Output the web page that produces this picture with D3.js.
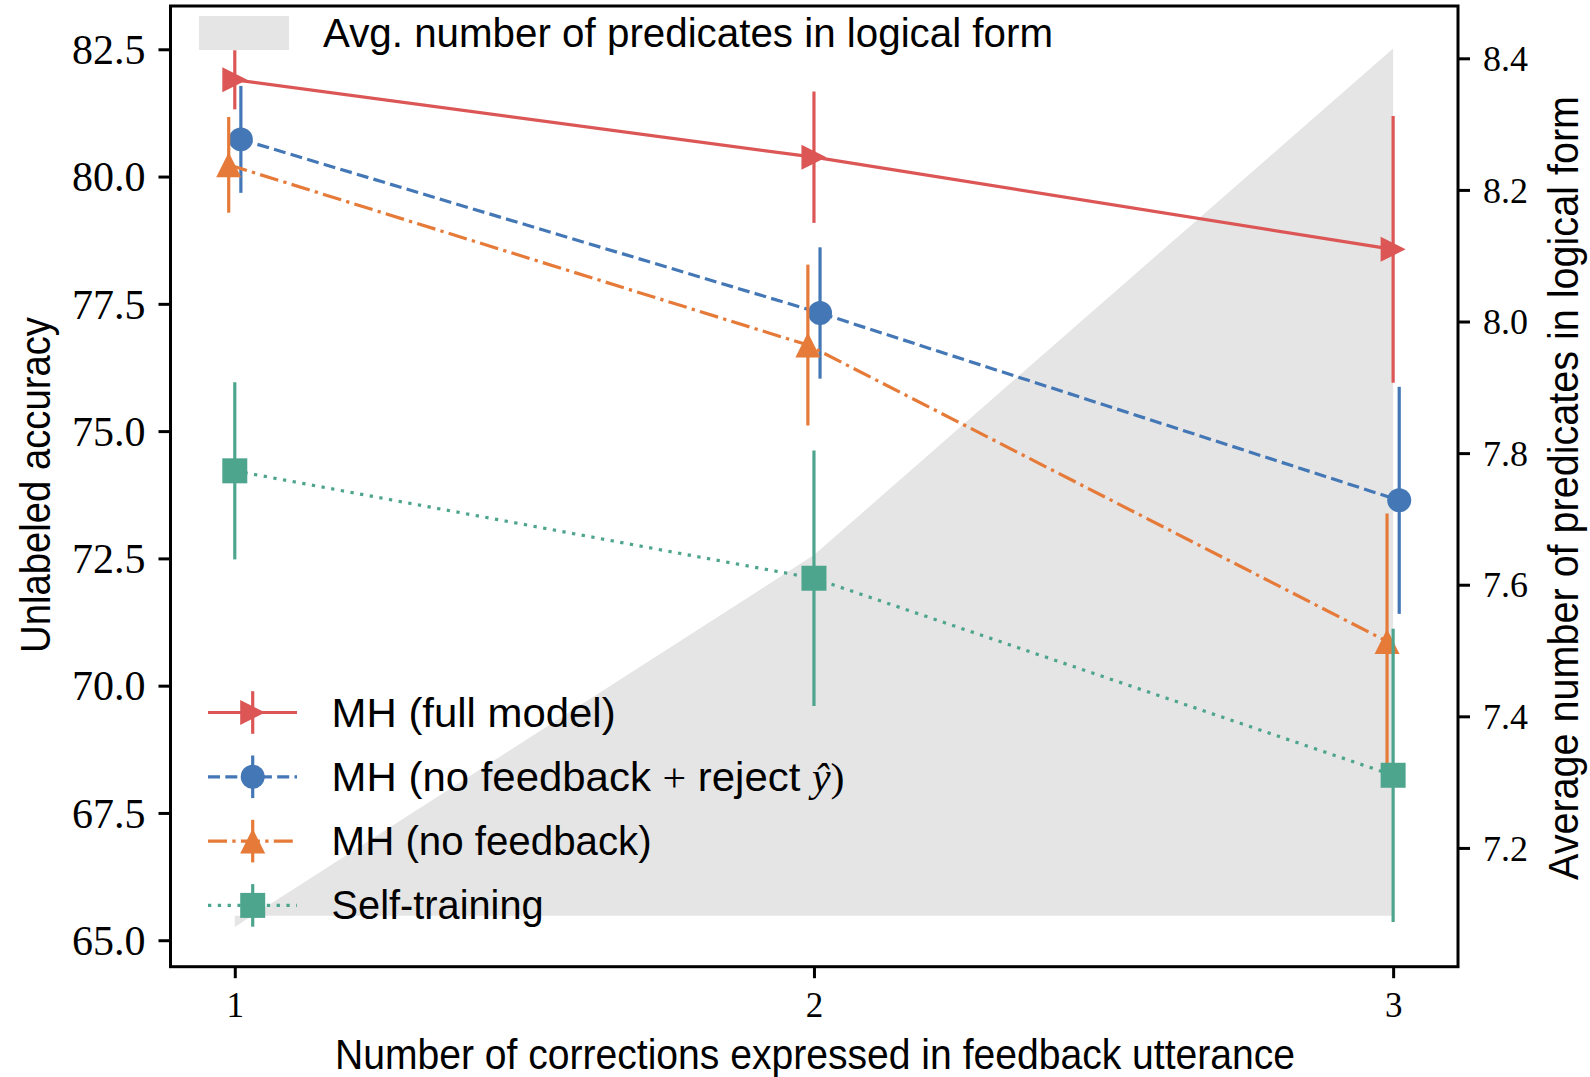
<!DOCTYPE html>
<html>
<head>
<meta charset="utf-8">
<script src="https://cdn.jsdelivr.net/npm/d3@7"></script>
<style>
  html, body { margin: 0; padding: 0; background: #fff; }
  svg { display: block; }
</style>
</head>
<body>
<script>
// ---- data -------------------------------------------------------------
const corrections = [1, 2, 3];
const seriesLabels = ["MH (full model)", "MH (no feedback + reject ŷ)", "MH (no feedback)", "Self-training"];
const accFull = [81.90, 80.38, 78.57];
const errFull = [0.58, 1.29, 2.62];
const accReject = [80.73, 77.32, 73.64];
const errReject = [1.05, 1.29, 2.23];
const accNoFeedback = [80.23, 76.69, 70.87];
const errNoFeedback = [0.94, 1.58, 2.51];
const accSelf = [74.22, 72.11, 68.24];
const errSelf = [1.74, 2.51, 2.88];
const avgPredicates = [7.08, 7.645, 8.415];
const predicateBase = 7.097;
const leftTicks = [65.0, 67.5, 70.0, 72.5, 75.0, 77.5, 80.0, 82.5];
const rightTicks = [7.2, 7.4, 7.6, 7.8, 8.0, 8.2, 8.4];
const xTicks = [1, 2, 3];
const xLabel = "Number of corrections expressed in feedback utterance";
const yLabel = "Unlabeled accuracy";
const y2Label = "Average number of predicates in logical form";
const areaLabel = "Avg. number of predicates in logical form";

// ---- layout & styles ----------------------------------------------------
const W = 1590, H = 1077;
const plot = { left: 170.5, right: 1458, top: 6, bottom: 966.7 };
const SANS = "'Liberation Sans Narrow', 'Liberation Sans', Arial, sans-serif";
const SERIF = "'Liberation Serif', 'Times New Roman', serif";
const LW = 3.2;

const series = [
  { values: accFull, errors: errFull, dx: 0, color: "#dc5656", dash: null, marker: "tri-right" },
  { values: accReject, errors: errReject, dx: 0.0105, color: "#4377b5", dash: "12,5.3", marker: "circle" },
  { values: accNoFeedback, errors: errNoFeedback, dx: -0.0105, color: "#e57a39", dash: "19,5.3,3.3,5.3", marker: "tri-up" },
  { values: accSelf, errors: errSelf, dx: 0, color: "#4ea58e", dash: "3.3,6.5", marker: "square" }
];

const svg = d3.select("body").append("svg").attr("width", W).attr("height", H);

const x = d3.scaleLinear().domain([0.889, 3.112]).range([plot.left, plot.right]);
const yL = d3.scaleLinear().domain([64.48, 83.35]).range([plot.bottom, plot.top]);
const yR = d3.scaleLinear().domain([7.0195, 8.4795]).range([plot.bottom, plot.top]);

// ---- shaded area on the secondary axis ---------------------------------
const area = d3.area()
  .x((d, i) => x(corrections[i]))
  .y0(() => yR(predicateBase))
  .y1(d => yR(d));
svg.append("path").datum(avgPredicates)
  .attr("d", area).attr("fill", "#e5e5e5").attr("stroke", "none");

// ---- markers ------------------------------------------------------------
function markerPath(kind, s) {
  switch (kind) {
    case "tri-right": return `M${s},0L${-s},${-s}L${-s},${s}Z`;
    case "tri-up": return `M0,${-s}L${-s},${s}L${s},${s}Z`;
    case "square": return `M${-s},${-s}H${s}V${s}H${-s}Z`;
    default: return d3.arc()({ innerRadius: 0, outerRadius: s * 0.96, startAngle: 0, endAngle: 2 * Math.PI });
  }
}

// ---- series with error bars --------------------------------------------
const line = d3.line();
series.forEach(s => {
  const g = svg.append("g");
  const pts = s.values.map((v, i) => [x(corrections[i] + s.dx), yL(v)]);
  g.append("path").attr("d", line(pts))
    .attr("fill", "none").attr("stroke", s.color).attr("stroke-width", LW)
    .attr("stroke-dasharray", s.dash);
  s.values.forEach((v, i) => {
    const cx = x(corrections[i] + s.dx);
    g.append("line")
      .attr("x1", cx).attr("x2", cx)
      .attr("y1", yL(v - s.errors[i])).attr("y2", yL(v + s.errors[i]))
      .attr("stroke", s.color).attr("stroke-width", LW);
  });
  s.values.forEach((v, i) => {
    g.append("path")
      .attr("transform", `translate(${x(corrections[i] + s.dx)},${yL(v)})`)
      .attr("d", markerPath(s.marker, 12.5))
      .attr("fill", s.color);
  });
});

// ---- axes ---------------------------------------------------------------
function styleAxis(g, size) {
  g.select(".domain").remove();
  g.selectAll(".tick line").attr("stroke", "#000").attr("stroke-width", 3);
  g.selectAll(".tick text").attr("font-family", SERIF).attr("font-size", size).attr("fill", "#000");
}

svg.append("g").attr("transform", `translate(${plot.left},0)`)
  .call(d3.axisLeft(yL).tickValues(leftTicks).tickFormat(d3.format(".1f")).tickSize(12).tickPadding(13))
  .call(g => styleAxis(g, 42))
  .call(g => g.selectAll(".tick text").attr("dy", "0.34em"));

svg.append("g").attr("transform", `translate(${plot.right},0)`)
  .call(d3.axisRight(yR).tickValues(rightTicks).tickFormat(d3.format(".1f")).tickSize(12).tickPadding(13))
  .call(g => styleAxis(g, 36))
  .call(g => g.selectAll(".tick text").attr("dy", "0.34em"));

svg.append("g").attr("transform", `translate(0,${plot.bottom})`)
  .call(d3.axisBottom(x).tickValues(xTicks).tickFormat(d3.format("d")).tickSize(11.5).tickPadding(15))
  .call(g => styleAxis(g, 35))
  .call(g => g.selectAll(".tick text").attr("dy", "0.68em"));

// spines
svg.append("rect")
  .attr("x", plot.left).attr("y", plot.top)
  .attr("width", plot.right - plot.left).attr("height", plot.bottom - plot.top)
  .attr("fill", "none").attr("stroke", "#000").attr("stroke-width", 3);

// axis titles
svg.append("text").text(xLabel)
  .attr("x", 815).attr("y", 1069).attr("text-anchor", "middle")
  .attr("font-family", SANS).attr("font-size", 42)
  .attr("textLength", 960).attr("lengthAdjust", "spacingAndGlyphs");

svg.append("text").text(yLabel)
  .attr("transform", "translate(50,485) rotate(-90)").attr("text-anchor", "middle")
  .attr("font-family", SANS).attr("font-size", 42)
  .attr("textLength", 336).attr("lengthAdjust", "spacingAndGlyphs");

svg.append("text").text(y2Label)
  .attr("transform", "translate(1578,488) rotate(-90)").attr("text-anchor", "middle")
  .attr("font-family", SANS).attr("font-size", 42)
  .attr("textLength", 784).attr("lengthAdjust", "spacingAndGlyphs");

// ---- legends ------------------------------------------------------------
const areaLegend = svg.append("g");
areaLegend.append("rect").attr("x", 199).attr("y", 16).attr("width", 90).attr("height", 34).attr("fill", "#e5e5e5");
areaLegend.append("text").text(areaLabel)
  .attr("x", 323).attr("y", 47)
  .attr("font-family", SANS).attr("font-size", 40)
  .attr("textLength", 730).attr("lengthAdjust", "spacingAndGlyphs");

const legendRows = [712.5, 776.8, 841.1, 905.4];
const legendWidths = [284, 513, 320, 212];
const legend = svg.append("g");
series.forEach((s, i) => {
  const cy = legendRows[i];
  const row = legend.append("g");
  row.append("line").attr("x1", 208).attr("x2", 297).attr("y1", cy).attr("y2", cy)
    .attr("stroke", s.color).attr("stroke-width", LW).attr("stroke-dasharray", s.dash);
  row.append("line").attr("x1", 252.7).attr("x2", 252.7).attr("y1", cy - 21.3).attr("y2", cy + 21.3)
    .attr("stroke", s.color).attr("stroke-width", LW);
  row.append("path").attr("transform", `translate(252.7,${cy})`)
    .attr("d", markerPath(s.marker, 12.5)).attr("fill", s.color);

  const t = row.append("text").attr("x", 331.6).attr("y", cy + 14)
    .attr("font-family", SANS).attr("font-size", 40)
    .attr("textLength", legendWidths[i]).attr("lengthAdjust", "spacingAndGlyphs");
  const label = seriesLabels[i];
  if (label.includes("ŷ")) {
    // math parts in serif, as in a typeset formula
    t.append("tspan").text("MH (no feedback ");
    t.append("tspan").attr("font-family", SERIF).text("+");
    t.append("tspan").text(" reject ");
    t.append("tspan").attr("font-family", SERIF).attr("font-style", "italic").text("ŷ");
    t.append("tspan").attr("font-family", SERIF).text(")");
  } else {
    t.text(label);
  }
});
</script>
</body>
</html>
